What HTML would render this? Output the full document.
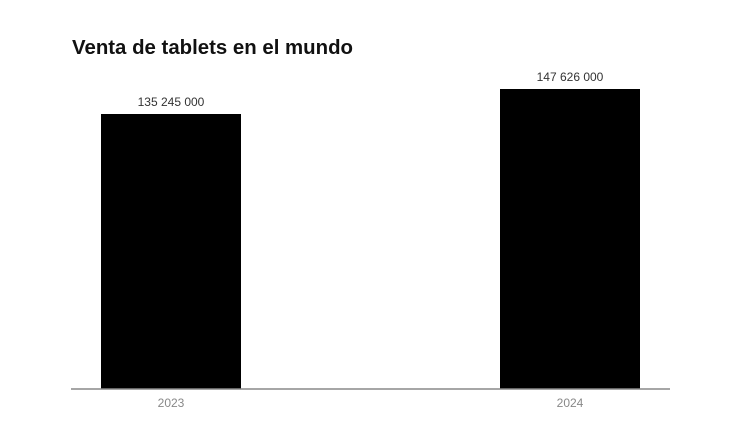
<!DOCTYPE html>
<html><head><meta charset="utf-8"><style>
html,body{margin:0;padding:0;background:#fff;}
svg{display:block;font-family:"Liberation Sans",sans-serif;}
</style></head><body>
<svg width="750" height="430" viewBox="0 0 750 430">
<rect width="750" height="430" fill="#fff"/>
<text x="72" y="54" font-size="20" font-weight="bold" fill="#111" textLength="281" lengthAdjust="spacingAndGlyphs">Venta de tablets en el mundo</text>
<rect x="101" y="114" width="140" height="275" fill="#000"/>
<rect x="500" y="89" width="140" height="300" fill="#000"/>
<line x1="71" y1="389" x2="670" y2="389" stroke="#888" stroke-width="1.5"/>
<text x="171" y="106" font-size="12" fill="#333" text-anchor="middle">135 245 000</text>
<text x="570" y="81" font-size="12" fill="#333" text-anchor="middle">147 626 000</text>
<text x="171" y="407" font-size="12" fill="#888" text-anchor="middle">2023</text>
<text x="570" y="407" font-size="12" fill="#888" text-anchor="middle">2024</text>
</svg>
</body></html>
